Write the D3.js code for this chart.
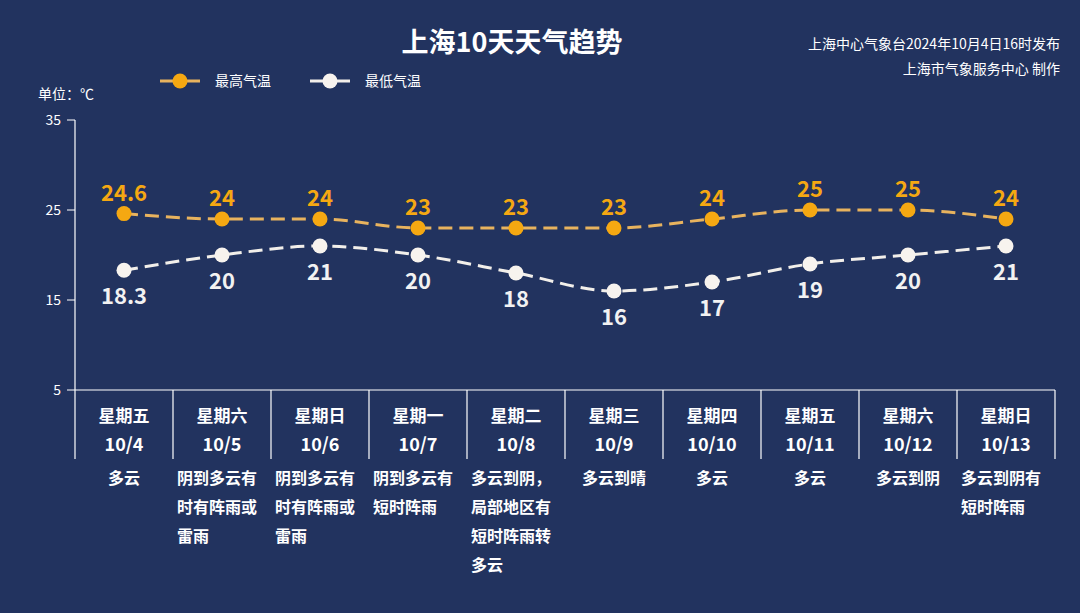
<!DOCTYPE html><html><head><meta charset="utf-8"><script src="https://cdn.jsdelivr.net/npm/d3@7"></script>
<style>body{margin:0;background:#22335f}text{font-family:"Noto Sans CJK SC","Noto Sans",sans-serif}</style></head><body>
<svg id="c" width="1080" height="613"></svg>
<script>
const weekdays=["星期五","星期六","星期日","星期一","星期二","星期三","星期四","星期五","星期六","星期日"];
const dates=["10/4","10/5","10/6","10/7","10/8","10/9","10/10","10/11","10/12","10/13"];
const weather=[["多云"],["阴到多云有","时有阵雨或","雷雨"],["阴到多云有","时有阵雨或","雷雨"],["阴到多云有","短时阵雨"],["多云到阴，","局部地区有","短时阵雨转","多云"],["多云到晴"],["多云"],["多云"],["多云到阴"],["多云到阴有","短时阵雨"]];
const highs=[24.6,24,24,23,23,23,24,25,25,24];
const lows=[18.3,20,21,20,18,16,17,19,20,21];
const yTicks=[35,25,15,5];
const svg=d3.select("#c");
svg.append("rect").attr("width",1080).attr("height",613).attr("fill","#22335f");
const x=d3.scaleBand().domain(d3.range(10)).range([75,1055]);
const y=d3.scaleLinear().domain([5,35]).range([390,120]);
const W="#ffffff",O="#f5a812";
// y axis
svg.append("line").attr("x1",75).attr("x2",75).attr("y1",120).attr("y2",390).attr("stroke",W).attr("stroke-width",1.2);
yTicks.forEach(t=>{svg.append("line").attr("x1",67).attr("x2",75).attr("y1",y(t)).attr("y2",y(t)).attr("stroke",W);
svg.append("text").attr("x",61).attr("y",y(t)+5).attr("text-anchor","end").attr("fill",W).attr("font-size",14).text(t);});
svg.append("line").attr("x1",75).attr("x2",1055).attr("y1",390).attr("y2",390).attr("stroke",W).attr("stroke-width",1.2);
d3.range(11).forEach(i=>{const xx=i<10?x(i):1055;svg.append("line").attr("x1",xx).attr("x2",xx).attr("y1",390).attr("y2",459).attr("stroke",W).attr("stroke-width",1.2);});
svg.append("text").attr("x",38).attr("y",99).attr("fill",W).attr("font-size",14).text("单位：℃");
d3.range(10).forEach(i=>{const cx=x(i)+x.bandwidth()/2;
svg.append("text").attr("x",cx).attr("y",422).attr("text-anchor","middle").attr("fill",W).attr("font-size",17).attr("font-weight","bold").text(weekdays[i]);
svg.append("text").attr("x",cx).attr("y",451).attr("text-anchor","middle").attr("fill",W).attr("font-size",18).attr("font-weight","bold").text(dates[i]);
const lines=weather[i];const single=lines.length==1;
lines.forEach((l,j)=>svg.append("text").attr("x",single?cx:x(i)+4).attr("text-anchor",single?"middle":"start").attr("y",484+j*29).attr("fill",W).attr("font-size",16).attr("font-weight","bold").text(l));});
const cxf=i=>x(i)+x.bandwidth()/2;
const line=d3.line().x((d,i)=>cxf(i)).y(d=>y(d)).curve(d3.curveMonotoneX);
svg.append("path").attr("d",line(highs)).attr("fill","none").attr("stroke","#e8b35e").attr("stroke-width",3).attr("stroke-dasharray","14,7");
svg.append("path").attr("d",line(lows)).attr("fill","none").attr("stroke","#f2efea").attr("stroke-width",3).attr("stroke-dasharray","14,7");
highs.forEach((v,i)=>{svg.append("circle").attr("cx",cxf(i)).attr("cy",y(v)).attr("r",7.5).attr("fill",O);
svg.append("text").attr("x",cxf(i)).attr("y",y(v)-13).attr("text-anchor","middle").attr("fill",O).attr("font-size",22).attr("font-weight","bold").text(v);});
lows.forEach((v,i)=>{svg.append("circle").attr("cx",cxf(i)).attr("cy",y(v)).attr("r",7.5).attr("fill","#f7f3ee");
svg.append("text").attr("x",cxf(i)).attr("y",y(v)+34).attr("text-anchor","middle").attr("fill","#f2f2f2").attr("font-size",22).attr("font-weight","bold").text(v);});
// title
svg.append("text").attr("x",512).attr("y",52).attr("text-anchor","middle").attr("fill",W).attr("font-size",27).attr("font-weight","bold").text("上海10天天气趋势");
svg.append("text").attr("x",1060).attr("y",49).attr("text-anchor","end").attr("fill",W).attr("font-size",14).text("上海中心气象台2024年10月4日16时发布");
svg.append("text").attr("x",1060).attr("y",74).attr("text-anchor","end").attr("fill",W).attr("font-size",14).text("上海市气象服务中心 制作");
// legend
[[160,O,"#e8b35e","最高气温"],[310,"#f7f3ee","#f2efea","最低气温"]].forEach(([lx,c,lc,t])=>{
svg.append("line").attr("x1",lx).attr("x2",lx+40).attr("y1",81).attr("y2",81).attr("stroke",lc).attr("stroke-width",3);
svg.append("circle").attr("cx",lx+20).attr("cy",81).attr("r",7.5).attr("fill",c);
svg.append("text").attr("x",lx+55).attr("y",86).attr("fill",W).attr("font-size",14).text(t);});
</script></body></html>
